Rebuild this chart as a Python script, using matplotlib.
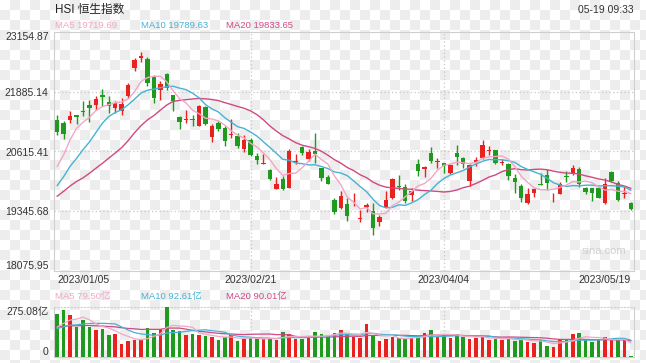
import numpy as np
import matplotlib
matplotlib.use("Agg")
import matplotlib.pyplot as plt

plt.rcParams['font.family'] = ['Liberation Sans', 'Noto Sans CJK SC', 'DejaVu Sans']

# ---------------- data ----------------
tick_idx = [0, 30, 60, 89]
tick_labels = ['2023/01/05', '2023/02/21', '2023/04/04', '2023/05/19']

opens = [21293, 21222, 21293, 21391, 21469, 21610, 21610, 21822, 21666, 21539,
         21483, 21786, 22386, 22612, 22583, 22188, 21927, 22259, 21808, 21349,
         21279, 21307, 21151, 21561, 20926, 21222, 21116, 20968, 20954, 20679,
         20869, 20517, 20354, 20213, 19811, 20023, 19847, 20400, 20707, 20446,
         20622, 20256, 20079, 19593, 19409, 19508, 19494, 19176, 19445, 19353,
         19120, 19445, 19621, 19882, 19861, 19691, 20340, 20234, 20587, 20390,
         20362, 20164, 20573, 20481, 19988, 20397, 20481, 20622, 20637, 20369,
         20340, 20058, 19882, 19529, 19727, 19931, 20115, 19660, 19720, 20080,
         20129, 20234, 19847, 19833, 19847, 19529, 20185, 19952, 19710, 19529]
highs = [21398, 21271, 21469, 21391, 21680, 21716, 21786, 21949, 21786, 21680,
         21751, 22069, 22598, 22739, 22633, 22245, 22104, 22294, 21822, 21360,
         21504, 21398, 21610, 21589, 21208, 21257, 21152, 21307, 21010, 20975,
         20905, 20587, 20552, 20234, 20072, 20093, 20658, 20552, 20728, 20672,
         21010, 20270, 20108, 19635, 19776, 19635, 19741, 19374, 19515, 19529,
         19261, 19776, 20058, 20108, 19917, 19847, 20446, 20305, 20714, 20481,
         20376, 20340, 20750, 20496, 20340, 20496, 20869, 20728, 20637, 20446,
         20376, 20129, 19917, 19847, 19833, 20164, 20234, 19727, 19974, 20199,
         20326, 20284, 19861, 19847, 19861, 20058, 20199, 19988, 19882, 19550]
lows = [20975, 20883, 21222, 21201, 21363, 21236, 21504, 21575, 21434, 21434,
        21398, 21751, 22330, 22513, 21998, 21645, 21716, 21927, 21469, 21095,
        21222, 21166, 21151, 21173, 20813, 21060, 20728, 20905, 20693, 20608,
        20517, 20354, 20340, 20002, 19811, 19797, 19833, 20340, 20531, 20411,
        20376, 19988, 19917, 19296, 19388, 19141, 19459, 19120, 19332, 18845,
        19036, 19423, 19600, 19797, 19529, 19564, 20093, 20072, 20376, 20256,
        20164, 20143, 20326, 20256, 19882, 20305, 20446, 20538, 20354, 20326,
        20002, 19741, 19550, 19508, 19656, 19903, 19790, 19550, 19705, 19974,
        20115, 19861, 19720, 19564, 19621, 19508, 19974, 19564, 19621, 19374]
closes = [21032, 20989, 21363, 21356, 21448, 21539, 21730, 21765, 21575, 21645,
          21624, 22033, 22562, 22647, 22068, 21751, 22047, 21963, 21681, 21236,
          21307, 21279, 21589, 21208, 21151, 21102, 20834, 20989, 20728, 20869,
          20531, 20425, 20369, 20023, 19917, 19811, 20622, 20410, 20587, 20601,
          20566, 20058, 19931, 19332, 19670, 19247, 19508, 19212, 19487, 19000,
          19233, 19578, 20023, 19861, 19564, 19776, 20199, 20284, 20411, 20411,
          20305, 20319, 20502, 20340, 20326, 20425, 20764, 20651, 20376, 20390,
          20093, 19974, 19621, 19720, 19811, 19903, 19952, 19670, 19917, 20072,
          20270, 19917, 19762, 19741, 19621, 19931, 19988, 19578, 19720, 19388]
# closes of the 19 sessions before the first candle (for the moving averages)
prev_closes = [18900, 19100, 19450, 19900, 19600, 19596, 19673, 19368, 19450, 19352,
               19094, 19160, 19679, 19593, 19898, 19741, 19781, 20145, 20793]

# turnover, 亿
volumes = [238, 257, 233, 165, 202, 165, 150, 156, 123, 128,
           73, 86, 95, 92, 161, 132, 156, 275, 147, 143,
           123, 128, 119, 114, 110, 95, 110, 119, 88, 101,
           105, 101, 101, 101, 95, 138, 128, 101, 101, 106,
           138, 125, 114, 134, 147, 132, 110, 106, 180, 119,
           86, 99, 110, 106, 103, 106, 110, 132, 150, 110,
           119, 106, 128, 110, 101, 106, 114, 95, 101, 92,
           106, 86, 97, 83, 77, 95, 59, 55, 101, 101,
           128, 132, 95, 84, 95, 110, 95, 92, 92, 4]
prev_volumes = [170, 182, 165, 176, 160, 188, 172, 179, 168, 180,
                150, 142, 155, 148, 140, 152, 145, 138, 150]
vol_up = [False, False, True, False, False, False, True, False, False, True,
          True, True, True, True, False, False, True, False, False, False,
          True, False, True, False, True, False, False, True, False, True,
          False, False, True, False, True, False, True, True, False, True,
          False, False, False, False, True, False, True, True, True, False,
          True, True, True, False, False, True, False, True, False, True,
          False, True, False, False, True, True, True, True, False, True,
          False, False, False, True, True, False, False, True, True, False,
          True, False, False, False, False, True, True, False, True, False]

header_ma = ['MA5 19719.69', 'MA10 19789.63', 'MA20 19833.65']
header_vol_ma = ['MA5 79.50亿', 'MA10 92.61亿', 'MA20 90.01亿']
price_ticks = [18075.95, 19345.68, 20615.41, 21885.14, 23154.87]
vol_max = 275.08

# ---------------- style ----------------
RED = '#e8221e'
GREEN = '#1f9a1f'
C_MA5 = '#f3a6c6'
C_MA10 = '#45b3d5'
C_MA20 = '#cf4a82'
GRID = '#c8c8c8'
TXT = '#333333'

W, H = 646, 363
fig = plt.figure(figsize=(W / 100, H / 100), dpi=100)

# checkerboard background
yy, xx = np.mgrid[0:H, 0:W]
chk = np.where(((xx // 10) + (yy // 10)) % 2 == 0, 1.0, 0.93)
bg = np.dstack([chk, chk, chk])
fig.figimage(bg, xo=0, yo=0, origin='upper', zorder=-10)


def fx(px):
    return px / W


def fy(py):
    return 1 - py / H


def moving_avg(prev, vals, n):
    full = list(prev) + list(vals)
    off = len(prev)
    return [np.mean(full[off + i - n + 1: off + i + 1]) for i in range(len(vals))]


n = len(closes)
x = np.arange(n)

# ---------------- main price axes ----------------
ax = fig.add_axes([fx(54), fy(271), fx(634) - fx(54), fy(32) - fy(271)])
ax.set_facecolor('none')
ax.set_xlim(-0.5, n - 0.5)
ax.set_ylim(price_ticks[0], price_ticks[-1])

for v in price_ticks[1:-1]:
    ax.axhline(v, color=GRID, lw=0.9, ls=(0, (1, 2)), zorder=0)
for t in tick_idx[1:-1]:
    ax.axvline(t, color=GRID, lw=0.9, ls=(0, (1, 2)), zorder=0)

for i in range(n):
    up = closes[i] >= opens[i]
    col = RED if up else GREEN
    ax.vlines(i, lows[i], highs[i], color=col, lw=1.0, zorder=3)
    lo = min(opens[i], closes[i])
    h = max(abs(closes[i] - opens[i]), 14)
    ax.bar(i, h, bottom=lo, width=0.7, color=col, lw=0, zorder=4)

ax.plot(x, moving_avg(prev_closes, closes, 20), color=C_MA20, lw=1.0, zorder=5)
ax.plot(x, moving_avg(prev_closes, closes, 10), color=C_MA10, lw=1.0, zorder=5)
ax.plot(x, moving_avg(prev_closes, closes, 5), color=C_MA5, lw=1.0, zorder=5)

ax.set_yticks(price_ticks)
ax.set_yticklabels(['%.2f' % v for v in price_ticks])
labs = ax.get_yticklabels()
labs[0].set_va('bottom')
labs[-1].set_va('top')
ax.set_xticks(tick_idx)
ax.set_xticklabels(tick_labels)
xl = ax.get_xticklabels()
xl[0].set_ha('left')
xl[0].set_x(-0.5)
xl[-1].set_ha('right')
ax.tick_params(axis='both', length=0, labelsize=7.5, labelcolor=TXT, pad=3)
ax.tick_params(axis='y', pad=4)
for s in ax.spines.values():
    s.set_color('#cfcfcf')
    s.set_linewidth(0.8)

# ---------------- volume axes ----------------
vx = fig.add_axes([fx(54), fy(357), fx(634) - fx(54), fy(307) - fy(357)])
vx.set_facecolor('none')
vx.set_xlim(-0.5, n - 0.5)
vx.set_ylim(0, vol_max)
vcols = [RED if u else GREEN for u in vol_up]
vx.bar(x, volumes, width=0.55, color=vcols, lw=0, zorder=3)
vx.plot(x, moving_avg(prev_volumes, volumes, 20), color=C_MA20, lw=0.9, zorder=5)
vx.plot(x, moving_avg(prev_volumes, volumes, 10), color=C_MA10, lw=0.9, zorder=5)
vx.plot(x, moving_avg(prev_volumes, volumes, 5), color=C_MA5, lw=0.9, zorder=5)
for t in tick_idx[1:-1]:
    vx.axvline(t, color=GRID, lw=0.9, ls=(0, (1, 2)), zorder=0)
vx.set_xticks([])
vx.set_yticks([0, vol_max])
vx.set_yticklabels(['0', '%.2f亿' % vol_max])
vl = vx.get_yticklabels()
vl[0].set_va('bottom')
vl[1].set_va('top')
vx.tick_params(axis='y', length=0, labelsize=7.5, labelcolor=TXT, pad=4)
for s in vx.spines.values():
    s.set_color('#cfcfcf')
    s.set_linewidth(0.8)
vx.spines['top'].set_linestyle((0, (1, 2)))

# ---------------- header texts ----------------
fig.text(fx(55), fy(10), 'HSI 恒生指数', fontsize=8.4, color='#222222', va='center', ha='left')
fig.text(fx(634), fy(10), '05-19 09:33', fontsize=7.5, color=TXT, va='center', ha='right')
for s, xp, c in zip(header_ma, [55, 141, 226], [C_MA5, C_MA10, C_MA20]):
    fig.text(fx(xp), fy(25), s, fontsize=6.8, color=c, va='center', ha='left')
for s, xp, c in zip(header_vol_ma, [55, 141, 226], [C_MA5, C_MA10, C_MA20]):
    fig.text(fx(xp), fy(297), s, fontsize=6.8, color=c, va='center', ha='left')
fig.text(fx(582), fy(251), 'sina.com', fontsize=8, color='#d0d0d0', va='center', ha='left')

fig.savefig('out.png', dpi=100)
